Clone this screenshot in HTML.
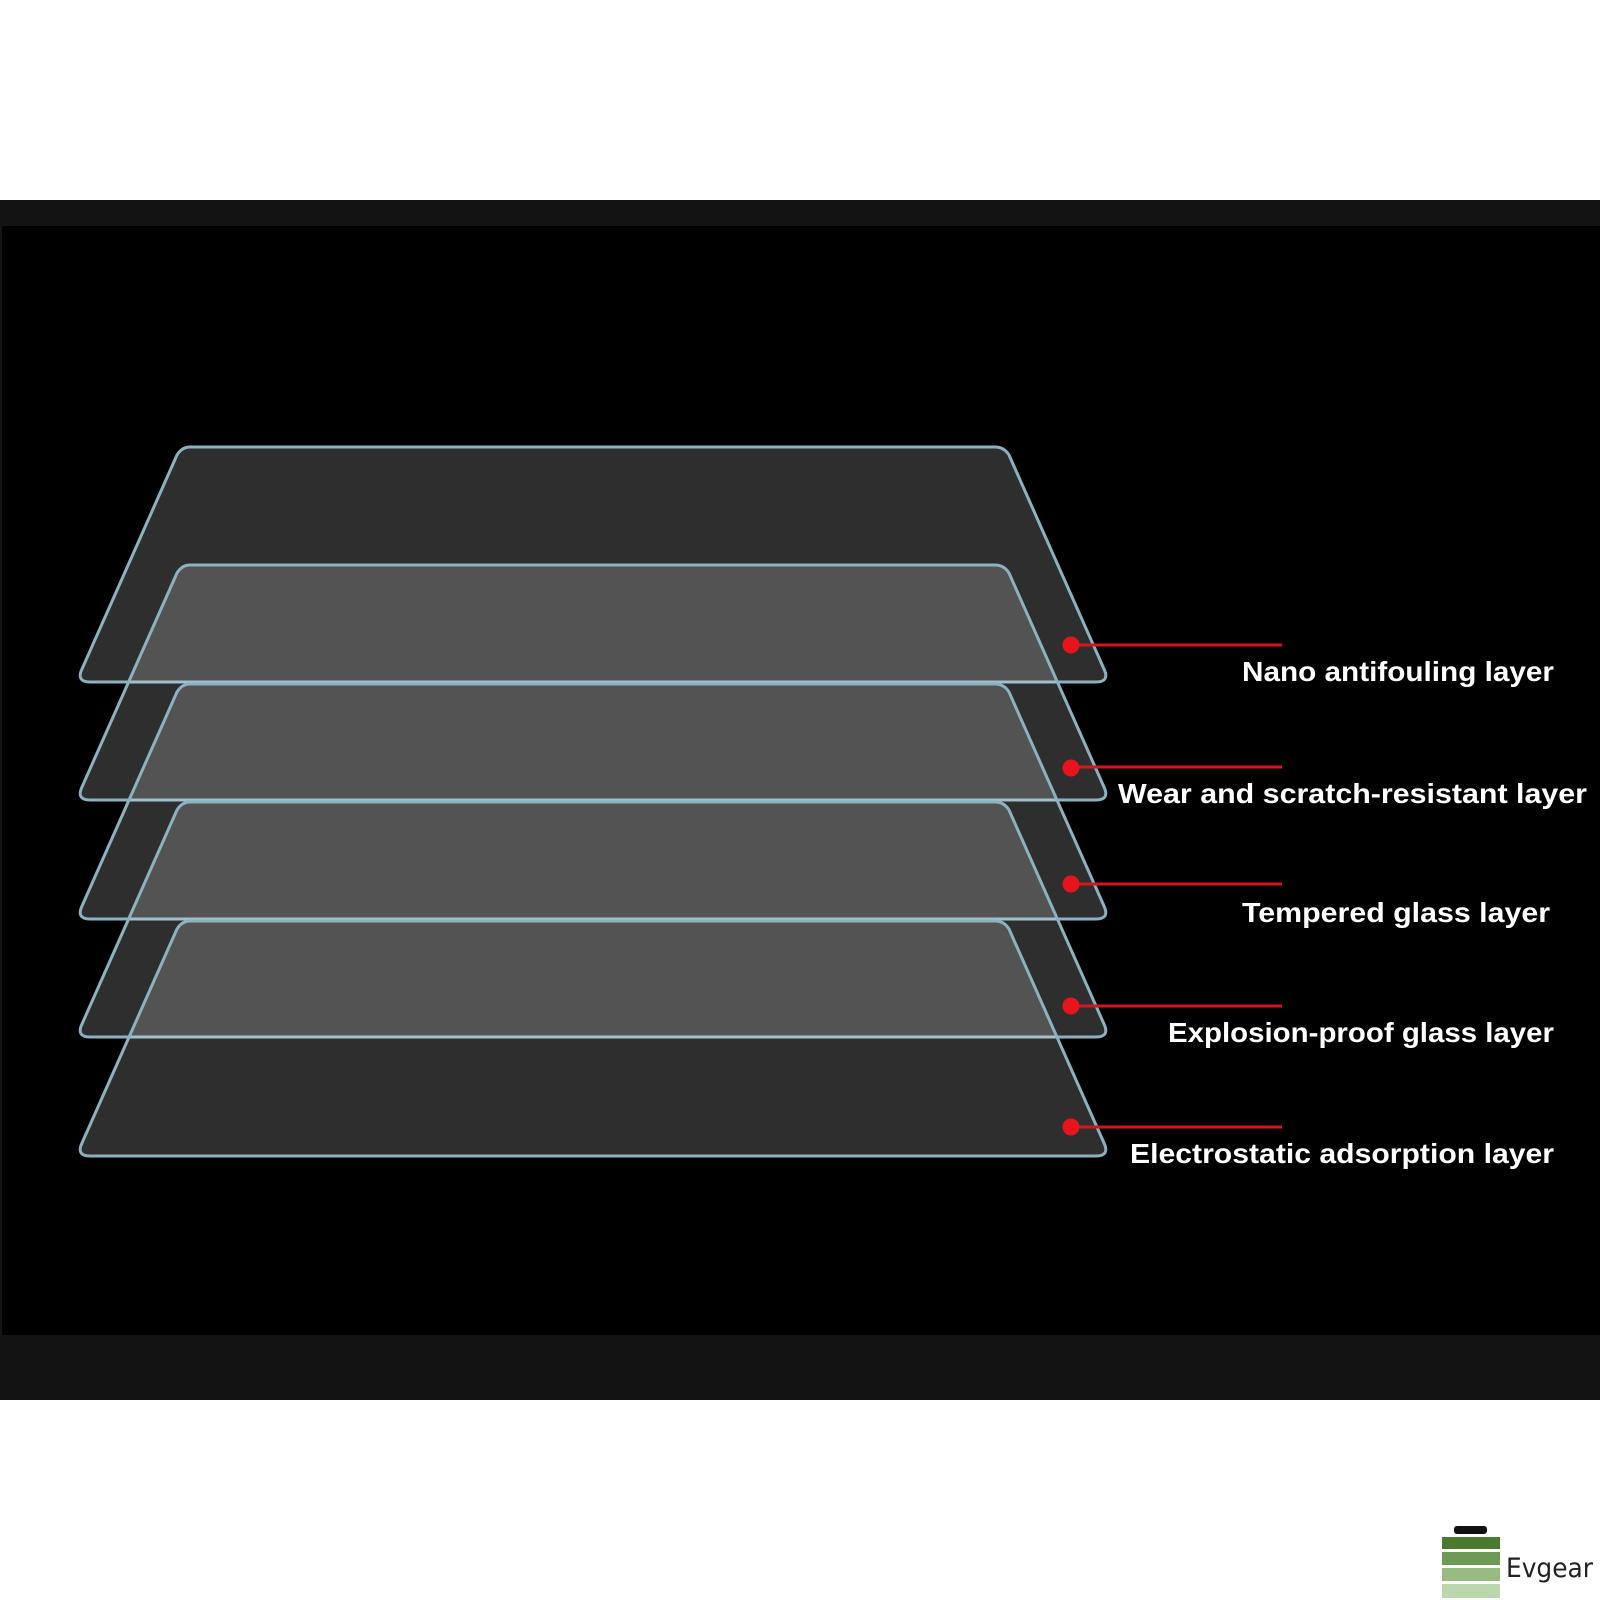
<!DOCTYPE html>
<html><head><meta charset="utf-8"><style>
html,body{margin:0;padding:0;background:#fff;}
svg{display:block;}
</style></head><body>
<svg width="1600" height="1600" viewBox="0 0 1600 1600" xmlns="http://www.w3.org/2000/svg">
<rect x="0" y="0" width="1600" height="1600" fill="#fff"/>
<rect x="0" y="200" width="1600" height="1200" fill="#131313"/>
<rect x="2" y="226" width="1598" height="1109" fill="#000"/>
<defs>
<path id="pl" d="M190 0 L995 0 Q1004 0 1009 8 L1104 222 Q1110 235 1096 235 L90 235 Q76 235 82 222 L177 8 Q182 0 190 0 Z"/>
</defs>
<g fill="rgba(255,255,255,0.18)" stroke="#8cb2c0" stroke-width="3">
<use href="#pl" y="447"/>
<use href="#pl" y="565"/>
<use href="#pl" y="684"/>
<use href="#pl" y="802"/>
<use href="#pl" y="921"/>
</g>
<g stroke="#d8141c" stroke-width="3">
<line x1="1071" y1="645" x2="1282" y2="645"/>
<line x1="1071" y1="767" x2="1282" y2="767"/>
<line x1="1071" y1="884" x2="1282" y2="884"/>
<line x1="1071" y1="1006" x2="1282" y2="1006"/>
<line x1="1071" y1="1127" x2="1282" y2="1127"/>
</g>
<g fill="#e8141c">
<circle cx="1071" cy="645" r="8.5"/>
<circle cx="1071" cy="768" r="8.5"/>
<circle cx="1071" cy="884" r="8.5"/>
<circle cx="1071" cy="1006" r="8.5"/>
<circle cx="1071" cy="1127" r="8.5"/>
</g>
<g fill="#fff" font-family="Liberation Sans, sans-serif" font-weight="bold" font-size="28" text-anchor="end">
<text x="1554" y="681" textLength="312" lengthAdjust="spacingAndGlyphs">Nano antifouling layer</text>
<text x="1587" y="803" textLength="469" lengthAdjust="spacingAndGlyphs">Wear and scratch-resistant layer</text>
<text x="1550" y="922" textLength="308" lengthAdjust="spacingAndGlyphs">Tempered glass layer</text>
<text x="1554" y="1042" textLength="386" lengthAdjust="spacingAndGlyphs">Explosion-proof glass layer</text>
<text x="1554" y="1163" textLength="424" lengthAdjust="spacingAndGlyphs">Electrostatic adsorption layer</text>
</g>
<rect x="1454" y="1526" width="33" height="8" rx="3" fill="#111"/>
<rect x="1442" y="1537" width="58" height="12" fill="#4a7a30"/>
<rect x="1442" y="1552" width="58" height="13" fill="#6f9a55"/>
<rect x="1442" y="1568" width="58" height="13" fill="#98bb84"/>
<rect x="1442" y="1584" width="58" height="14" fill="#bcd6ae"/>
<text x="1506" y="1577" font-family="DejaVu Sans, sans-serif" font-size="27" fill="#222" textLength="87" lengthAdjust="spacingAndGlyphs">Evgear</text>
</svg>
</body></html>
